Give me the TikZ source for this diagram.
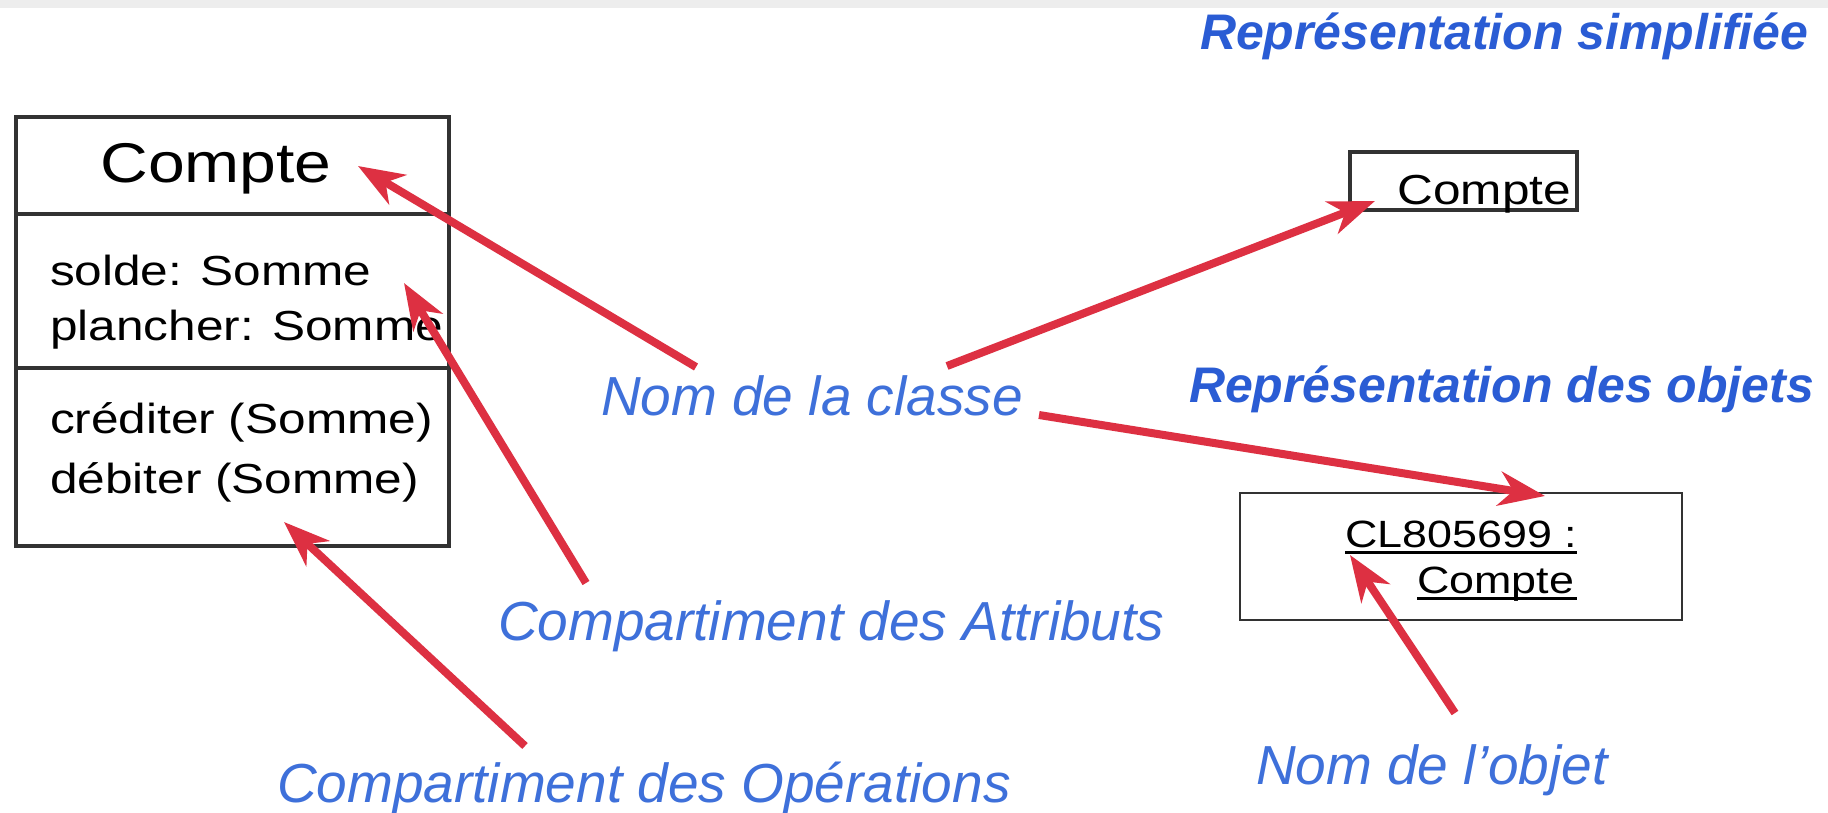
\documentclass[tikz,border=0pt]{standalone}
\usepackage{fontspec}
\setmainfont{Liberation Sans}
\usetikzlibrary{arrows.meta}
\definecolor{arrowred}{RGB}{221,48,66}
\definecolor{lblue}{RGB}{62,112,218}
\definecolor{bblue}{RGB}{42,92,212}
\definecolor{boxgray}{RGB}{50,50,50}
\newcommand{\hs}[1]{\scalebox{1.18}[1]{#1}}
\begin{document}
\begin{tikzpicture}[x=1pt,y=-1pt,
  txt/.style={inner sep=0pt, outer sep=0pt, font=\fontsize{42}{50}\selectfont, text=black},
  bigtxt/.style={txt, font=\fontsize{56}{66}\selectfont},
  smalltxt/.style={txt, font=\fontsize{38}{44}\selectfont},
  lbl/.style={inner sep=0pt, outer sep=0pt, font=\itshape\fontsize{55}{66}\selectfont, text=lblue},
  hdr/.style={inner sep=0pt, outer sep=0pt, font=\bfseries\itshape\fontsize{50}{60}\selectfont, text=bblue},
  pointer/.style={draw=arrowred, line width=8pt, -{Stealth[length=46pt,width=34pt,inset=14pt]}},
  umlline/.style={draw=boxgray, line width=4pt},
]
\fill[white] (0,0) rectangle (1828,813);
\useasboundingbox (0,0) rectangle (1828,813);
\fill[black!7] (0,0) rectangle (1828,8);

% class box
\draw[umlline] (16,117) rectangle (449,546);
\draw[umlline] (16,214) -- (449,214);
\draw[umlline] (16,368) -- (449,368);
\node[bigtxt, anchor=base] (cname) at (216,183) {\hs{Compte}};
\node[txt, anchor=base west] (a1) at (50,285) {\hs{solde: Somme}};
\node[txt, anchor=base west] (a2) at (50,340) {\hs{plancher: Somme}};
\node[txt, anchor=base west] (o1) at (50,433) {\hs{créditer (Somme)}};
\node[txt, anchor=base west] (o2) at (50,493) {\hs{débiter (Somme)}};

% simplified box
\draw[draw=boxgray, line width=3.5pt] (1350,152) rectangle (1577,210);
\node[txt, anchor=base east] (sname) at (1571,205) {\hs{Compte}};

% object box
\draw[draw=boxgray, line width=2.5pt] (1240,493) rectangle (1682,620);
\node[smalltxt, anchor=base east] (obj1) at (1577,547) {\hs{CL805699 :}};
\node[smalltxt, anchor=base east] (obj2) at (1574,593) {\hs{Compte}};
\draw[line width=2.2pt] ([shift={(0,5.5)}]obj1.base west) -- ([shift={(0,5.5)}]obj1.base east);
\draw[line width=2.2pt] ([shift={(0,5.5)}]obj2.base west) -- ([shift={(3,5.5)}]obj2.base east);

% labels
\node[hdr, anchor=base west] (h1) at (1200,50) {Représentation simplifiée};
\node[hdr, anchor=base west] (h2) at (1189,402) {Représentation des objets};
\node[lbl, anchor=base west] (lclass) at (601,415) {Nom de la classe};
\node[lbl, anchor=base west] (lattr) at (498,640) {Compartiment des Attributs};
\node[lbl, anchor=base west] (lops) at (277,802) {Compartiment des Opérations};
\node[lbl, anchor=base west] (lobj) at (1256,784) {Nom de l’objet};

% arrow end points
\coordinate (c1s) at (696,367);  \coordinate (c1e) at (358,166);
\coordinate (c2s) at (586,583);  \coordinate (c2e) at (404,283);
\coordinate (c3s) at (525,746);  \coordinate (c3e) at (284,522);
\coordinate (c4s) at (947,366);  \coordinate (c4e) at (1375,201);
\coordinate (c5s) at (1039,415); \coordinate (c5e) at (1545,496);
\coordinate (c6s) at (1455,713); \coordinate (c6e) at (1350,555);

\draw[pointer] (c1s) -- (c1e);
\draw[pointer] (c2s) -- (c2e);
\draw[pointer] (c3s) -- (c3e);
\draw[pointer] (c4s) -- (c4e);
\draw[pointer] (c5s) -- (c5e);
\draw[pointer] (c6s) -- (c6e);
\end{tikzpicture}
\end{document}
